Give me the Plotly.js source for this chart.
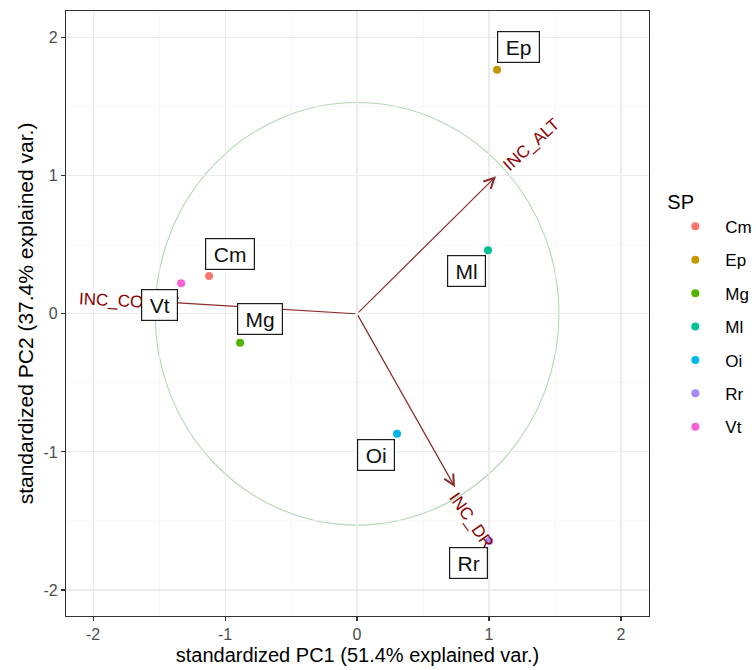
<!DOCTYPE html>
<html>
<head>
<meta charset="utf-8">
<script src="https://cdn.plot.ly/plotly-3.0.1.min.js"></script>
<style>html,body{margin:0;padding:0;background:#fff;}</style>
</head>
<body>
<div id="chart" style="width:756px;height:670px;"></div>
<script>
// ---- data ----
const species = ['Cm', 'Ep', 'Mg', 'Ml', 'Oi', 'Rr', 'Vt'];
const pc1 = [-1.121, 1.061, -0.886, 0.992, 0.303, 1.002, -1.333];
const pc2 = [0.274, 1.768, -0.210, 0.460, -0.869, -1.645, 0.222];
const labelX = [-0.962, 1.222, -0.739, 0.826, 0.140, 0.843, -1.500];
const labelY = [0.436, 1.929, -0.039, 0.308, -1.023, -1.805, 0.062];
const speciesColors = ['#F8766D', '#C49A00', '#53B400', '#00C094', '#00B6EB', '#A58AFF', '#FB61D7'];

const varNames = ['INC_ALT', 'INC_DR', 'INC_CO'];
const varX = [1.053, 0.742, -1.45];
const varY = [0.996, -1.255, 0.085];
const varLabelX = [1.322, 0.867, -1.864];
const varLabelY = [1.227, -1.493, 0.098];
const varLabelAngle = [-42, 55, 3];

const circleRadius = 1.53;

const xTickVals = [-2, -1, 0, 1, 2];
const xTickText = ['-2', '-1', '0', '1', '2'];
const yTickVals = [-2, -1, 0, 1, 2];
const yTickText = ['-2', '-1', '0', '1', '2'];

// ---- helpers ----
const FONT = '"Liberation Sans", Arial, sans-serif';
const LABEL_SIZE = 21;
const ctx = document.createElement('canvas').getContext('2d');
ctx.font = LABEL_SIZE + 'px "Liberation Sans", Arial, sans-serif';
function textW(s) { return ctx.measureText(s).width; }

// ---- traces ----
const traces = species.map((s, i) => ({
  type: 'scatter', mode: 'markers',
  x: [pc1[i]], y: [pc2[i]], name: s,
  legendgroup: s,
  marker: {color: speciesColors[i], size: 8},
  hoverinfo: 'name'
}));

const annotations = [];
varNames.forEach((v, i) => {
  annotations.push({
    x: varX[i], y: varY[i], xref: 'x', yref: 'y',
    ax: 0, ay: 0, axref: 'x', ayref: 'y',
    text: '', showarrow: true, arrowhead: 5, arrowsize: 1.7,
    arrowwidth: 1.2, arrowcolor: '#8B2C2C', standoff: 0, startstandoff: 0
  });
});
varNames.forEach((v, i) => {
  annotations.push({
    x: varLabelX[i], y: varLabelY[i], xref: 'x', yref: 'y',
    text: v, showarrow: false, textangle: varLabelAngle[i],
    font: {family: FONT, size: 17, color: '#8B0000'}
  });
});
species.forEach((s, i) => {
  annotations.push({
    x: labelX[i], y: labelY[i], xref: 'x', yref: 'y',
    text: s, showarrow: false,
    width: Math.round(textW(s) + 9), height: 24,
    font: {family: FONT, size: LABEL_SIZE, color: '#111'},
    bgcolor: '#ffffff', bordercolor: '#1a1a1a', borderwidth: 1.2, borderpad: 3
  });
});

const layout = {
  width: 756, height: 670,
  margin: {l: 66, r: 107, t: 10.5, b: 54, autoexpand: false},
  paper_bgcolor: '#fff', plot_bgcolor: '#fff',
  font: {family: FONT, color: '#000'},
  showlegend: true,
  xaxis: {
    range: [-2.205, 2.212], tickvals: xTickVals, ticktext: xTickText,
    showgrid: true, gridcolor: '#EBEBEB', gridwidth: 1.1,
    minor: {tickvals: [-1.5, -0.5, 0.5, 1.5], showgrid: true, gridcolor: '#F2F2F2', gridwidth: 0.6},
    zeroline: false, showline: true, linecolor: '#333333', linewidth: 1.1, mirror: true,
    ticks: 'outside', ticklen: 4, tickcolor: '#333333', tickwidth: 1.1,
    tickfont: {family: FONT, size: 16, color: '#4D4D4D'},
    title: {text: 'standardized PC1 (51.4% explained var.)', font: {family: FONT, size: 20, color: '#000'}, standoff: 5}
  },
  yaxis: {
    range: [-2.188, 2.193], tickvals: yTickVals, ticktext: yTickText,
    showgrid: true, gridcolor: '#EBEBEB', gridwidth: 1.1,
    minor: {tickvals: [-1.5, -0.5, 0.5, 1.5], showgrid: true, gridcolor: '#F2F2F2', gridwidth: 0.6},
    zeroline: false, showline: true, linecolor: '#333333', linewidth: 1.1, mirror: true,
    ticks: 'outside', ticklen: 4, tickcolor: '#333333', tickwidth: 1.1,
    tickfont: {family: FONT, size: 16, color: '#4D4D4D'},
    title: {text: 'standardized PC2 (37.4% explained var.)', font: {family: FONT, size: 21, color: '#000'}, standoff: 4}
  },
  shapes: [{
    type: 'circle', xref: 'x', yref: 'y',
    x0: -circleRadius, x1: circleRadius, y0: -circleRadius, y1: circleRadius,
    line: {color: 'rgba(120,180,120,0.55)', width: 1.1}, layer: 'below'
  }],
  legend: {
    x: 1.028, xanchor: 'left', y: 0.716, yanchor: 'top',
    title: {text: 'SP', font: {family: FONT, size: 20, color: '#000'}},
    font: {family: FONT, size: 17, color: '#000'},
    itemwidth: 50, tracegroupgap: 8.3, bgcolor: 'rgba(0,0,0,0)'
  },
  annotations: annotations
};

Plotly.newPlot('chart', traces, layout, {displayModeBar: false, staticPlot: true});
</script>
</body>
</html>
